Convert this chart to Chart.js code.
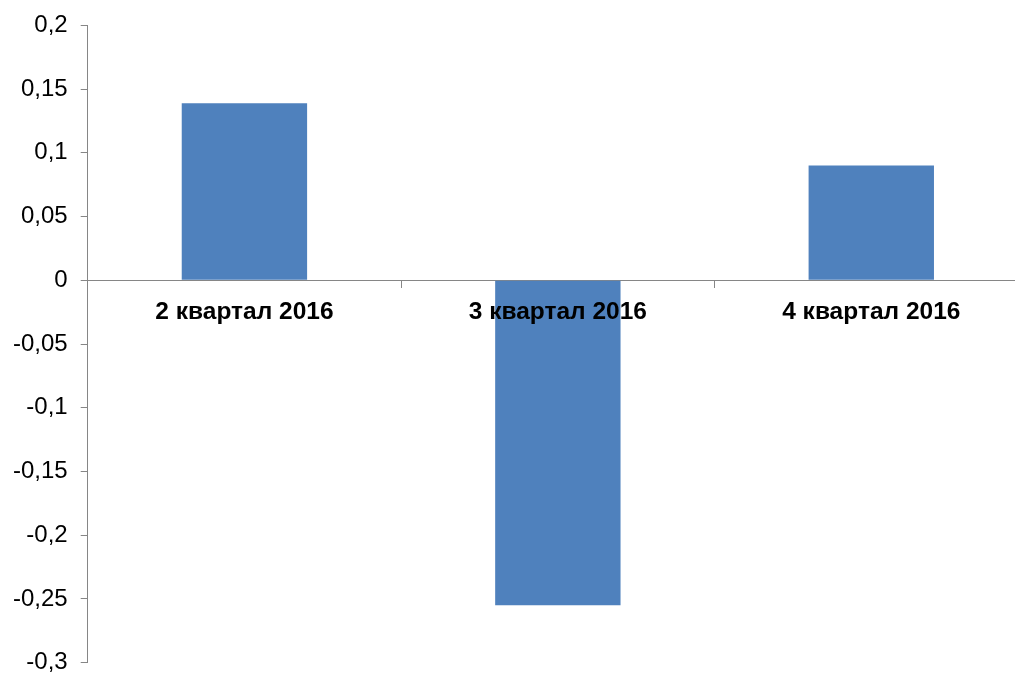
<!DOCTYPE html>
<html>
<head>
<meta charset="utf-8">
<script src="https://cdn.jsdelivr.net/npm/chart.js@4/dist/chart.umd.min.js"></script>
<style>
  html, body { margin: 0; padding: 0; background: #fff; overflow: hidden; }
  #wrap { width: 1028px; height: 692px; position: absolute; left: 0; top: -2px; }
</style>
</head>
<body>
<div id="wrap"><canvas id="c"></canvas></div>
<script>
const categories = ['2 квартал 2016', '3 квартал 2016', '4 квартал 2016'];
const values = [0.139, -0.255, 0.09];
const yMin = -0.3, yMax = 0.2, yStep = 0.05;

new Chart(document.getElementById('c'), {
  type: 'bar',
  data: {
    labels: categories,
    datasets: [{
      data: values,
      backgroundColor: '#4F81BD',
      borderWidth: 0,
      categoryPercentage: 1,
      barPercentage: 0.4
    }]
  },
  options: {
    responsive: true,
    maintainAspectRatio: false,
    animation: false,
    layout: { padding: { top: 9, bottom: 0, left: 0, right: 0 } },
    plugins: { legend: { display: false }, tooltip: { enabled: false } },
    scales: {
      x: {
        position: { y: 0 },
        grid: { drawOnChartArea: false, tickLength: 7, color: '#868686', offset: true },
        border: { color: '#868686', width: 1 },
        ticks: {
          z: 1,
          color: '#000',
          font: { family: '"Liberation Sans", Arial, sans-serif', size: 24.5, weight: 'bold' },
          padding: 10,
          maxRotation: 0
        }
      },
      y: {
        min: yMin, max: yMax,
        grid: { drawOnChartArea: false, tickLength: 7, color: '#868686' },
        border: { color: '#868686', width: 1 },
        ticks: {
          stepSize: yStep,
          color: '#000',
          padding: 13,
          font: { family: '"Liberation Sans", Arial, sans-serif', size: 24 },
          callback: v => String(Math.round(v * 100) / 100).replace('.', ',')
        }
      }
    }
  }
});
</script>
</body>
</html>
